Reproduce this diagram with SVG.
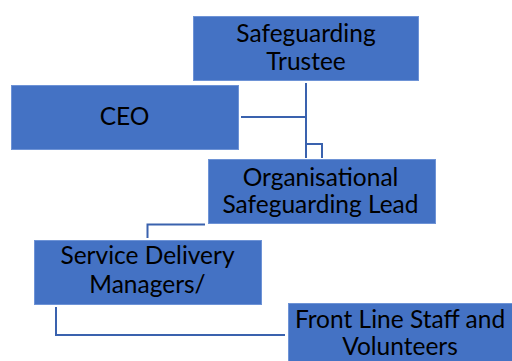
<svg xmlns="http://www.w3.org/2000/svg" width="512" height="361" viewBox="0 0 512 361">
<style>
.box{fill:#4472C4;stroke:#6E93D6;stroke-width:1}
.t{font-family:Lato,"Liberation Sans",sans-serif;font-size:24.5px;fill:#000;text-anchor:middle}
.c{fill:none;stroke:#3A62AE;stroke-width:2}
</style>
<rect width="512" height="361" fill="#fff"/>
<g id="connectors">
<path class="c" d="M306 83V158"/>
<path class="c" d="M241 117H306"/>
<path class="c" d="M306 144H322V158"/>
<path class="c" d="M205 224.5H147.5V238"/>
<path class="c" d="M56 307V335H285"/>
</g>
<g id="trustee"><rect class="box" x="193.5" y="16.5" width="225" height="64"/><text class="t" x="306" y="42">Safeguarding</text><text class="t" x="306" y="70">Trustee</text></g>
<g id="ceo"><rect class="box" x="11.5" y="85.5" width="227" height="64"/><text class="t" x="124.5" y="125">CEO</text></g>
<g id="lead"><rect class="box" x="208.5" y="159.5" width="227" height="64"/><text class="t" x="320.5" y="186">Organisational</text><text class="t" x="320.5" y="213">Safeguarding Lead</text></g>
<g id="sdm"><rect class="box" x="34.5" y="240.5" width="227" height="64"/><text class="t" x="147.5" y="264">Service Delivery</text><text class="t" x="147.5" y="293">Managers/</text></g>
<g id="front"><rect class="box" x="288.5" y="303.5" width="224" height="58"/><text class="t" x="400" y="328">Front Line Staff and</text><text class="t" x="400" y="355">Volunteers</text></g>
</svg>
